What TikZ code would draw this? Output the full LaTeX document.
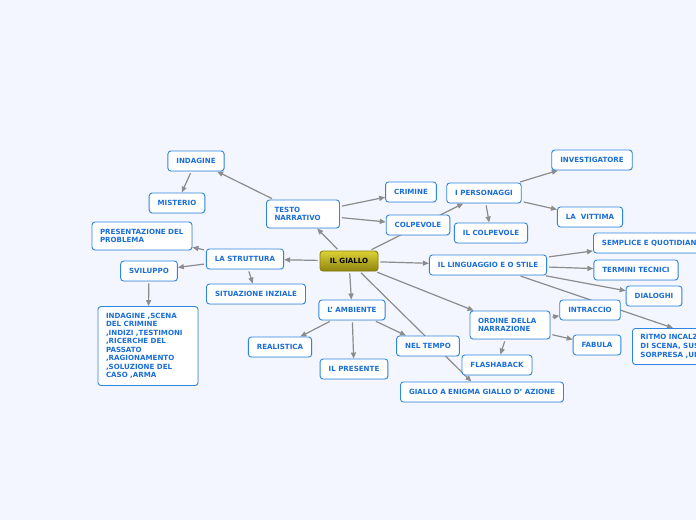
\documentclass[tikz,border=0pt]{standalone}
\usepackage{fontspec}
\setmainfont{DejaVu Sans}
\usetikzlibrary{arrows.meta,backgrounds,shadows}
\definecolor{sfondo}{HTML}{F3F6FE}
\definecolor{bordo}{HTML}{2F86E0}
\definecolor{testoblu}{HTML}{1A6ED8}
\definecolor{freccia}{HTML}{8C8C8C}
\definecolor{orotop}{HTML}{DCD232}
\definecolor{orobot}{HTML}{8E8410}
\definecolor{orobordo}{HTML}{8A7F0C}
\tikzset{
  box/.style={draw=bordo, fill=white, line width=0.9pt, rounded corners=3pt, text=testoblu,
    font=\fontsize{7.1}{8.8}\selectfont\bfseries, minimum height=20pt, inner xsep=8.5pt, inner ysep=3pt,
    drop shadow={shadow xshift=0.5pt, shadow yshift=-0.7pt, opacity=0.2}},
  multi/.style={box, align=left, text width=#1, inner xsep=8pt},
  link/.style={draw=freccia, line width=1.2pt, -{Triangle[length=6pt,width=5pt]}, shorten <=2pt},
}
\begin{document}
\begin{tikzpicture}[x=1pt, y=-1pt]
\useasboundingbox (0,0) rectangle (696,520);
\clip (0,0) rectangle (696,520);

% Nodo centrale
\node[box, draw=orobordo, top color=orotop, bottom color=orobot, text=black, minimum width=58pt] (giallo) at (349,261) {IL GIALLO};

% Testo narrativo
\node[multi=57pt, minimum height=28pt] (testo) at (303,214) {TESTO\\NARRATIVO};
\node[box] (indag) at (196,161) {INDAGINE};
\node[box] (myst) at (177,203) {MISTERIO};
\node[box] (crim) at (411,192) {CRIMINE};
\node[box] (colp) at (418,225) {COLPEVOLE};

% I personaggi
\node[box] (pers) at (484,193) {I PERSONAGGI};
\node[box] (invest) at (592,160) {INVESTIGATORE};
\node[box] (vitt) at (590,217) {LA\ \ VITTIMA};
\node[box] (ilcolp) at (491,233) {IL COLPEVOLE};

% La struttura
\node[box] (strutt) at (245,259) {LA STRUTTURA};
\node[multi=84pt, minimum height=28pt] (presen) at (142,236) {PRESENTAZIONE DEL\\PROBLEMA};
\node[box] (svil) at (149,271) {SVILUPPO};
\node[box] (situaz) at (256,294) {SITUAZIONE INZIALE};
\node[multi=84pt, minimum height=79pt, font=\fontsize{7.1}{8.5}\selectfont\bfseries] (indlist) at (148,346)
  {INDAGINE ,SCENA\\DEL CRIMINE\\,INDIZI ,TESTIMONI\\,RICERCHE DEL\\PASSATO\\,RAGIONAMENTO\\,SOLUZIONE DEL\\CASO ,ARMA};

% L' ambiente
\node[box] (amb) at (352,310) {L' AMBIENTE};
\node[box] (real) at (280,347) {REALISTICA};
\node[box] (pres) at (354,369) {IL PRESENTE};
\node[box] (tempo) at (428,346) {NEL TEMPO};
\node[box] (enigma) at (482,392) {GIALLO A ENIGMA GIALLO D' AZIONE};

% Il linguaggio
\node[box] (ling) at (488,265) {IL LINGUAGGIO E O STILE};
\node[box, anchor=west] (sempl) at (593,243) {SEMPLICE E QUOTIDIANO};
\node[box] (termini) at (636,270) {TERMINI TECNICI};
\node[box] (dial) at (654,296) {DIALOGHI};
\node[multi=100pt, minimum height=36pt, anchor=north west] (ritmo) at (632,328) {RITMO INCALZ\\DI SCENA, SUS\\SORPRESA ,UN};

% Ordine della narrazione
\node[multi=64pt, minimum height=28pt] (ordine) at (510,325) {ORDINE DELLA\\NARRAZIONE};
\node[box] (intr) at (590,310) {INTRACCIO};
\node[box] (fabula) at (597,345) {FABULA};
\node[box] (flash) at (497,365) {FLASHABACK};

% Collegamenti
\begin{scope}[on background layer]
\fill[sfondo] (0,0) rectangle (696,520);
\draw[link] (giallo) -- (testo);
\draw[link] (testo) -- (indag);
\draw[link] (indag) -- (myst);
\draw[link] (testo) -- (crim);
\draw[link] (testo) -- (colp);
\draw[link] (giallo) -- (pers);
\draw[link] (pers) -- (invest);
\draw[link] (pers) -- (vitt);
\draw[link] (pers) -- (ilcolp);
\draw[link] (giallo) -- (strutt);
\draw[link] (strutt) -- (presen);
\draw[link] (strutt) -- (svil);
\draw[link] (strutt) -- (situaz);
\draw[link] (svil) -- (indlist);
\draw[link] (giallo) -- (amb);
\draw[link] (amb) -- (real);
\draw[link] (amb) -- (pres);
\draw[link] (amb) -- (tempo);
\draw[link] (giallo) -- (enigma);
\draw[link] (giallo) -- (ling);
\draw[link] (ling) -- (sempl);
\draw[link] (ling) -- (termini);
\draw[link] (ling) -- (dial);
\draw[link] (ling) -- ([xshift=41pt]ritmo.north west);
\draw[link] (giallo) -- (ordine);
\draw[link] (ordine) -- (intr);
\draw[link] (ordine) -- (fabula);
\draw[link] (ordine) -- (flash);
\end{scope}
\end{tikzpicture}
\end{document}
